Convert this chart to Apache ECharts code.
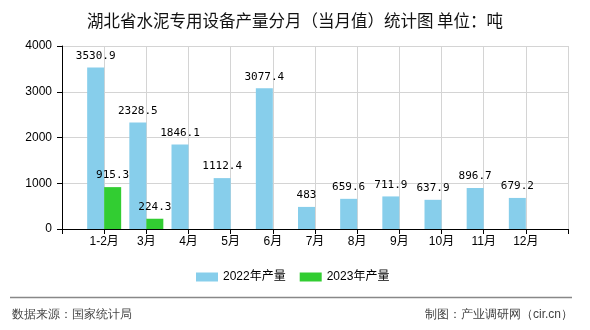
<!DOCTYPE html>
<html>
<head>
<meta charset="utf-8">
<script src="https://cdn.jsdelivr.net/npm/echarts@6/dist/echarts.min.js"></script>
<style>html,body{margin:0;padding:0;background:#fff;}#main{width:590px;height:330px;}</style>
</head>
<body>
<div id="main"></div>
<script>
var titleText = '湖北省水泥专用设备产量分月（当月值）统计图 单位：吨';
var categories = ['1-2月', '3月', '4月', '5月', '6月', '7月', '8月', '9月', '10月', '11月', '12月'];
var values2022 = [3530.9, 2328.5, 1846.1, 1112.4, 3077.4, 483, 659.6, 711.9, 637.9, 896.7, 679.2];
var values2023 = [915.3, 224.3, null, null, null, null, null, null, null, null, null];
var seriesNames = ['2022年产量', '2023年产量'];
var yTicks = [0, 1000, 2000, 3000, 4000];
var sourceText = '数据来源：国家统计局';
var creditText = '制图：产业调研网（cir.cn）';

var axisData = [''].concat(categories).concat(['']);
function pad(arr) { return [null].concat(arr).concat([null]); }

var cjk = "'Liberation Sans', 'Noto Sans CJK SC', sans-serif";
var chart = echarts.init(document.getElementById('main'), null, {renderer: 'canvas'});
chart.setOption({
  animation: false,
  backgroundColor: '#fff',
  title: {
    text: titleText,
    left: 'center',
    top: 7,
    textStyle: {fontSize: 16.5, fontWeight: 'normal', color: '#111', fontFamily: "'Noto Sans CJK SC', sans-serif"}
  },
  legend: {
    left: 196,
    top: 271,
    padding: 0,
    itemWidth: 22,
    itemHeight: 9,
    itemGap: 14,
    icon: 'rect',
    textStyle: {fontSize: 12, color: '#000', fontFamily: cjk},
    data: seriesNames
  },
  grid: {left: 62, right: 22, top: 46, bottom: 101, containLabel: false},
  xAxis: {
    type: 'category',
    boundaryGap: false,
    data: axisData,
    axisLine: {lineStyle: {color: '#000', width: 1}},
    axisTick: {show: true, interval: 0, length: 5, lineStyle: {color: '#000'}},
    axisLabel: {interval: 0, fontSize: 12, color: '#000', margin: 7, fontFamily: cjk},
    splitLine: {show: true, interval: 0, lineStyle: {color: '#d4d4d4', width: 1}}
  },
  yAxis: {
    type: 'value',
    min: yTicks[0],
    max: yTicks[yTicks.length - 1],
    interval: 1000,
    axisLine: {show: true, lineStyle: {color: '#000', width: 1}},
    axisTick: {show: true, length: 5, lineStyle: {color: '#000'}},
    axisLabel: {fontSize: 12, color: '#000', margin: 10, fontFamily: cjk, formatter: function (v) { return String(v); }},
    splitLine: {show: true, lineStyle: {color: '#d4d4d4', width: 1}}
  },
  series: [
    {
      name: seriesNames[0],
      type: 'bar',
      data: pad(values2022),
      barWidth: 17,
      barGap: '0%',
      itemStyle: {color: '#87CEEB'},
      label: {show: true, position: 'top', distance: 6, fontSize: 11, color: '#000', fontFamily: "'DejaVu Sans Mono', monospace"}
    },
    {
      name: seriesNames[1],
      type: 'bar',
      data: pad(values2023),
      barWidth: 17,
      barGap: '0%',
      itemStyle: {color: '#32CD32'},
      label: {show: true, position: 'top', distance: 6, fontSize: 11, color: '#000', fontFamily: "'DejaVu Sans Mono', monospace"}
    }
  ],
  graphic: [
    {type: 'line', shape: {x1: 10, y1: 297.5, x2: 572, y2: 297.5}, style: {stroke: '#888', lineWidth: 1.5}},
    {type: 'text', left: 12, top: 309, style: {text: sourceText, fontSize: 12, fill: '#444', font: "12px 'Noto Sans CJK SC', sans-serif"}},
    {type: 'text', right: 17, top: 309, style: {text: creditText, fontSize: 12, fill: '#444', font: "12px 'Noto Sans CJK SC', sans-serif"}}
  ]
});
</script>
</body>
</html>
